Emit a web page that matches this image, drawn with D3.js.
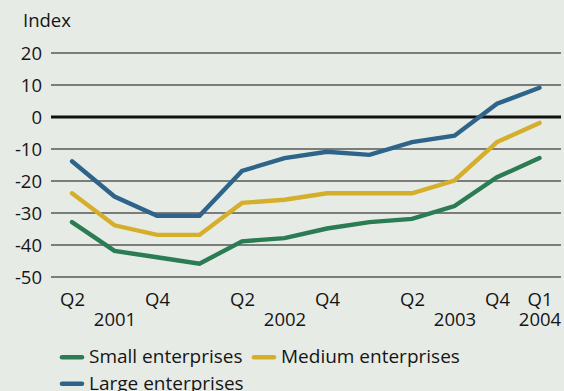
<!DOCTYPE html>
<html>
<head>
<meta charset="utf-8">
<script src="https://cdn.jsdelivr.net/npm/d3@7"></script>
<style>
  html, body { margin: 0; padding: 0; background: #e6ebe5; }
  svg { display: block; font-family: "Open Sans", "Noto Sans", sans-serif; }
</style>
</head>
<body>
<svg id="chart" width="564" height="391"></svg>
<script>
// Quarterly survey index by enterprise size, Q2 2001 - Q1 2004
const quarters = ["2001Q2","2001Q3","2001Q4","2002Q1","2002Q2","2002Q3","2002Q4",
                  "2003Q1","2003Q2","2003Q3","2003Q4","2004Q1"];
const quarterLabels = ["Q2","","Q4","","Q2","","Q4","","Q2","","Q4","Q1"];
const yearLabels    = ["","2001","","","","2002","","","","2003","","2004"];

const small  = [-33, -42, -44, -46, -39, -38, -35, -33, -32, -28, -19, -13];
const medium = [-24, -34, -37, -37, -27, -26, -24, -24, -24, -20, -8, -2];
const large  = [-14, -25, -31, -31, -17, -13, -11, -12, -8, -6, 4, 9];

const yTicks = [20, 10, 0, -10, -20, -30, -40, -50];

const seriesNames  = ["Small enterprises", "Medium enterprises", "Large enterprises"];
const seriesColors = ["#2b7b53", "#d5ae2b", "#2e6489"];
const seriesValues = [small, medium, large];

const svg = d3.select("#chart");
const gridLeft = 51, gridRight = 561;
const textColor = "#151515";
const fontSize = 18.5;

const x = d3.scalePoint().domain(quarters).range([72, 539.5]);
const y = d3.scaleLinear().domain([-50, 20]).range([276.5, 52.5]);

// Unit label
svg.append("text").attr("x", 23).attr("y", 27)
  .attr("font-size", fontSize).attr("fill", textColor).text("Index");

// Horizontal grid with value labels (plain hyphen for negatives)
const yAxis = svg.append("g")
  .attr("transform", `translate(${gridLeft},0)`)
  .call(d3.axisLeft(y).tickValues(yTicks).tickSize(-(gridRight - gridLeft))
    .tickPadding(9).tickFormat(d => String(d)));
yAxis.select(".domain").remove();
yAxis.selectAll(".tick line")
  .attr("stroke", "#111")
  .attr("stroke-width", d => d === 0 ? 3 : 1.2);
yAxis.selectAll(".tick text")
  .attr("font-size", fontSize).attr("fill", textColor)
  .attr("font-family", "\"Open Sans\", sans-serif")
  .attr("dy", "0.36em");

// Quarter labels
const xAxis = svg.append("g")
  .attr("transform", "translate(0,305.5)")
  .call(d3.axisBottom(x).tickSize(0).tickPadding(0)
    .tickFormat((d, i) => quarterLabels[i]));
xAxis.select(".domain").remove();
xAxis.selectAll(".tick text")
  .attr("font-size", fontSize).attr("fill", textColor)
  .attr("font-family", "\"Open Sans\", sans-serif")
  .attr("y", 0).attr("dy", 0);

// Year labels
const yearAxis = svg.append("g")
  .attr("transform", "translate(0,325.5)")
  .call(d3.axisBottom(x).tickSize(0).tickPadding(0)
    .tickFormat((d, i) => yearLabels[i]));
yearAxis.select(".domain").remove();
yearAxis.selectAll(".tick text")
  .attr("font-size", fontSize).attr("fill", textColor)
  .attr("font-family", "\"Open Sans\", sans-serif")
  .attr("y", 0).attr("dy", 0);

// Series lines
const line = d3.line().x((d, i) => x(quarters[i])).y(d => y(d));
seriesValues.forEach((vals, k) => {
  svg.append("path")
    .datum(vals)
    .attr("d", line)
    .attr("fill", "none")
    .attr("stroke", seriesColors[k])
    .attr("stroke-width", 4.4)
    .attr("stroke-linecap", "round")
    .attr("stroke-linejoin", "miter");
});

// Legend
const legendItems = [
  { x: 60, y: 357.3, k: 0 },
  { x: 252, y: 357.3, k: 1 },
  { x: 60, y: 383.8, k: 2 }
];
legendItems.forEach(it => {
  const g = svg.append("g").attr("transform", `translate(${it.x},${it.y})`);
  g.append("line").attr("x1", 2).attr("x2", 22).attr("y1", 0).attr("y2", 0)
    .attr("stroke", seriesColors[it.k]).attr("stroke-width", 4.6)
    .attr("stroke-linecap", "round");
  g.append("text").attr("x", 29).attr("y", 5.8)
    .attr("font-size", 19).attr("fill", textColor)
    .text(seriesNames[it.k]);
});
</script>
</body>
</html>
